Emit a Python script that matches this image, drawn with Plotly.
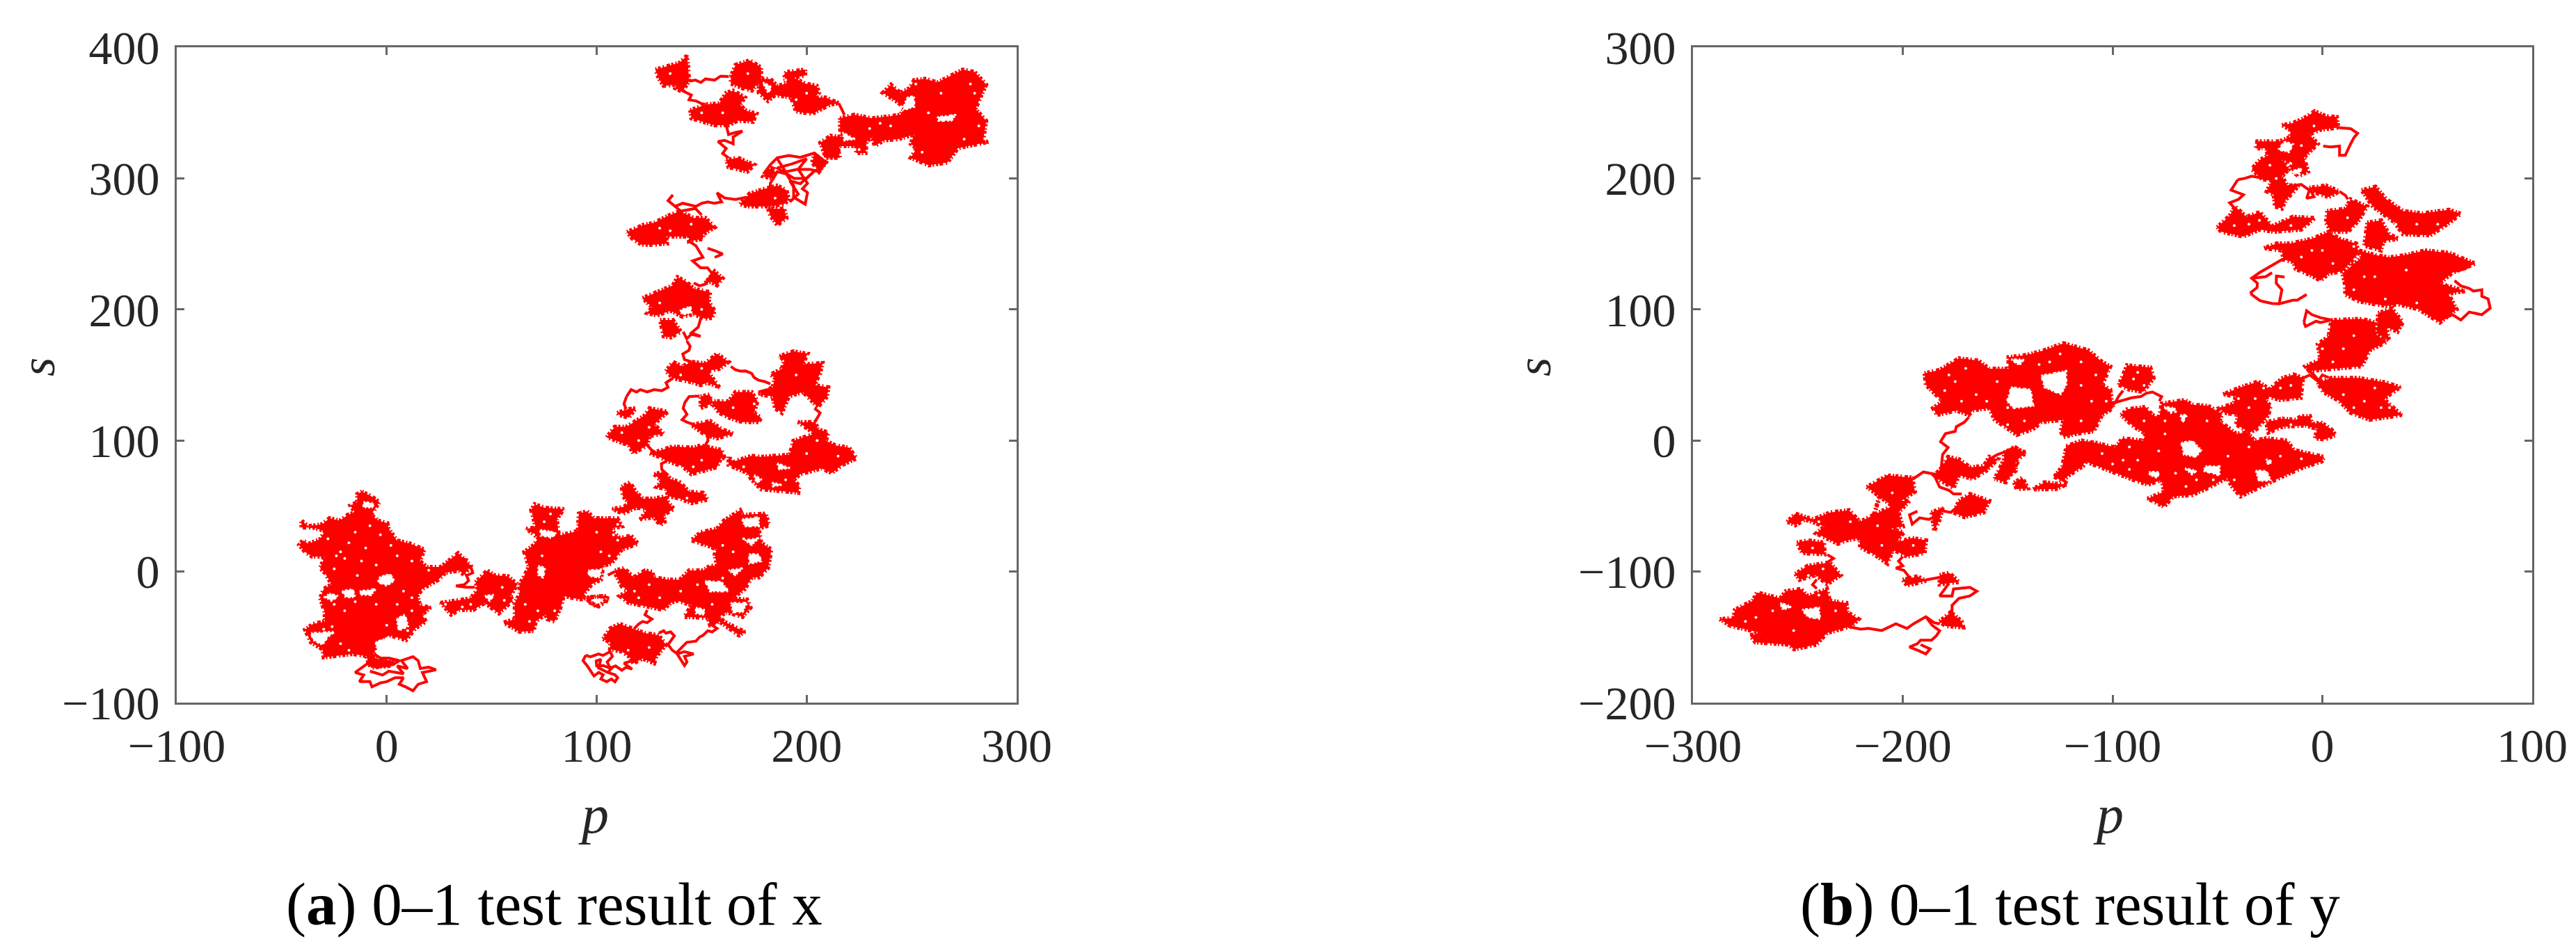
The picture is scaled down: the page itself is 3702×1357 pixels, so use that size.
import plotly.graph_objects as go

W, H = 3702, 1357
OFF = 8  # the page body adds this margin around the figure

# ================= panel (a): 0-1 test walk of x =================
# outlines of the regions the walk fills almost solidly
a_left = [(-11.8,61),(-7.4,57.5),(-3.5,53),(-5.7,46.9),(-7.4,43.3),(-4.1,38.9),(.3,37),(.9,32.7),(4.8,23.8),(11.4,21.2),(18,16.8),(15.8,7.9),(19.1,3.5),(25.7,3.5),(32.4,11.4),(34,14),(40,4.4),(36.8,-2.7),(34.6,.8),(28,-.9),(24.6,-6.2),(16.9,-13.3),(14.7,-18.6),(15.8,-25.7),(20.8,-27.5),(16.9,-32.8),(18.6,-38.1),(13.6,-43.4),(9.2,-52.3),(1.4,-48.7),(-3,-52.3),(-6.3,-62.9),(-5.2,-66.4),(3.6,-68.2),(2.5,-71.7),(-7.4,-73.5),(-9,-68.2),(-9.6,-64.6),(-16.2,-62.9),(-26.2,-64.6),(-30,-65.5),(-30.6,-59.3),(-36.1,-54),(-38.9,-44.3),(-35,-39.9),(-29.5,-38.1),(-29.5,-31),(-31.7,-20.4),(-30,-13.3),(-26.2,-9.8),(-29.5,-.9),(-31.7,2.6),(-29.5,11.5),(-35.6,11.5),(-38.9,15),(-41.7,20.3),(-40,23.8),(-37.2,21.2),(-31.7,24.7),(-29.5,30.9),(-35,33.6),(-40.6,33.6),(-40.6,38.9),(-37.2,34.5),(-30.6,36.2),(-27.3,40.7),(-22.3,38.9),(-18.5,43.3),(-15.1,45.1),(-17.3,50.4),(-14,53),(-14,59.2)]
a_bridge = [(42.3,-8),(47.9,.8),(51.2,-2.7),(57.8,-3.6),(62.2,-9.8),(58.9,-18.6),(60,-22.2),(53.4,-31.9),(46.7,-23.9),(41.2,-29.3),(34.6,-29.3),(30.7,-32.8),(25.7,-23.9),(33.5,-22.2),(40,-20.4),(43.4,-13.3)]
a_centre = [(63.3,-9.8),(67.7,3.5),(65.5,15),(70,20.3),(72.2,25.6),(66.6,32.7),(71,33.6),(68.8,46.9),(70.5,51.3),(75.5,48.6),(84.3,47.7),(81,39.8),(82,27.4),(91,31),(91.5,44.2),(95.4,46),(98.7,40.7),(109.8,40.7),(112,34.5),(106.4,32.7),(110.9,25.6),(116.4,27.4),(119.7,21.2),(112,16.8),(107,6.1),(103.1,4.4),(102,-6.2),(97.6,-9.8),(93.2,-18.6),(99.8,-26.6),(104.2,-23.9),(105.3,-18.6),(96.5,-19.5),(92,-21.3),(84.3,-18.6),(83.2,-25.7),(79.9,-38.1),(76.6,-36.3),(75.5,-32.8),(71,-38),(70,-45.2),(63.3,-46),(55.6,-39),(61,-36.3),(61,-24),(63.3,-16.9)]
a_mid1 = [(112,64.6),(115.8,68.1),(118.6,61),(121.9,55.7),(127.4,55.7),(133,57.5),(134,53),(136.8,47.7),(131.9,43.3),(132.4,38),(130.2,35.3),(127.4,41.5),(120.8,39.8),(124.1,47.7),(118.6,48.6),(112.5,44.2),(107.5,47.7),(113.1,49.5),(115.3,52.2),(112.5,57.5)]
a_mid2 = [(127.4,74.3),(131.9,76),(135.2,70.7),(139.6,68.1),(144,61),(150.6,60.1),(152.8,54.8),(145.1,52.2),(139.6,55.7),(134.1,57.5),(133,62.8),(128.5,64.6),(130.8,69)]
a_c_main = [(108.7,.8),(113.1,2.6),(117.5,-4.5),(123,.8),(126.3,-.1),(127.4,-4.5),(134.1,-6.2),(139.6,-6.2),(144,.8),(150.6,.8),(154,4.4),(157.3,4.4),(156.2,13.2),(157.3,16.8),(151.7,20.3),(145.1,23.8),(149.5,30),(157.3,32.7),(160.6,38.9),(168.3,46.8),(169.4,43.3),(180.5,44.2),(182.1,35.3),(177.2,32.7),(178.3,22.1),(183.2,16.8),(181.6,2.6),(177.2,-4.5),(173.9,-4.5),(170.5,-13.3),(165,-20.4),(171.6,-21.3),(173.3,-27.5),(169.4,-34.6),(161.7,-31),(158.4,-34.6),(160.6,-38.1),(170.5,-46),(167.8,-48.7),(161.7,-41.6),(158.4,-38.1),(154,-40.8),(152.9,-35.4),(141.8,-34.6),(145.1,-25.7),(138.5,-22.2),(135.2,-23.9),(131.9,-29.3),(126.3,-27.5),(123,-25.7),(115.3,-23.9),(110.9,-18.6),(115.3,-14.2),(112,-11.5),(109.2,-2.7)]
a_c_low = [(103.1,-51.4),(106.4,-43.4),(110.9,-39.9),(117.5,-43.4),(123,-46.9),(129.6,-48.7),(133,-55.8),(128.5,-64.7),(127.4,-70),(121.9,-66.4),(117.5,-70),(115.3,-64.7),(112,-61.1),(106.4,-59.3),(106.4,-54)]
a_c_nub = [(95.4,-20.4),(100.9,-18.6),(105.3,-20.4),(100.9,-26.6),(97,-24)]
a_band1 = [(127.4,91),(136.3,95.4),(146.2,94.5),(149.5,96.3),(159.5,92.8),(161.1,85.7),(159.5,87.6),(157.3,79.6),(145.1,74.3),(140.7,80.5),(134,84),(129.7,87.6),(125.2,90.2)]
a_band2 = [(162.8,87.6),(162.8,81.4),(171.6,75.2),(173.9,69.9),(178.3,62.8),(189.3,61),(196,60.1),(196.5,65.4),(193.7,69.9),(197,74.3),(207,78.7),(212,75.2),(217,81.4),(223,85.8),(223.6,86.6),(220.2,94.5),(213.6,96.3),(209.2,99.8),(210.3,106),(205.3,108.7),(204.2,114),(196,114),(199.3,110.5),(203.7,105.2),(193.7,99.8),(192,89.2),(178.3,87.5),(173.8,88.3),(165,83.9)]
a_loop_c = [(133,152.9),(136.3,160),(140.7,156.5),(145.1,160),(151.7,159),(154,161.8),(157.3,166.2),(162.8,160),(158.4,154.7),(152.8,153),(156.2,145.9),(158.4,140.6),(152.8,144.1),(149.5,142.3),(146.2,144.1),(136.3,147.6)]
a_loop_r = [(187.1,164.4),(193.7,168),(200.4,166.2),(198.2,158.2),(207.5,159.1),(206.4,151.2),(203.7,142.3),(210.3,140.6),(209.8,133.5),(205.3,125.5),(201.5,131.7),(198.2,137),(191.5,133.5),(188.2,121.1),(184.9,124.6),(183.8,133.5),(177.2,135.3),(183.8,140.6),(184.9,147.6),(182.7,150.3),(188.2,154.7),(189.3,160.9)]
a_loop_m = [(149.5,133.5),(154,135.2),(154,129.9),(162.8,129.9),(166.1,137),(173.8,137),(176.6,129.9),(174.9,121.1),(178.3,117.5),(177.2,114),(169.4,114),(162.8,117.5),(158.4,121.1),(155,128.2),(149.5,124.6)]
a_loop_l = [(104.8,102.5),(108.6,110.5),(114.2,110.5),(117.5,114),(123,119.3),(125.2,124.6),(134,122),(130.7,117.5),(127.4,112.2),(131.9,105.2),(125.2,103.4),(124.1,96.3),(117.5,90.1),(115.3,96.3),(108.6,100.7)]
a_loop_l2 = [(109.8,121),(114.2,123.7),(118.6,124.6),(115.3,117.5),(110.9,119.3)]
a_loop_b = [(146.2,112.2),(154,114.9),(159.5,108.7),(165,105.2),(157.3,101.6),(151.7,104.3),(146.2,110.5)]
a_up1 = [(121.9,208.7),(129.6,214),(136.3,218.4),(138.5,224.6),(142.9,221),(146.2,215.8),(154,213.1),(153.4,206),(156.2,198.9),(155,193.6),(151.7,192.8),(146.2,196.3),(140.7,194.5),(135.2,199),(128.5,195.4),(124.1,197.2),(126.3,201.6)]
a_up2 = [(130.2,191.9),(136.3,191.9),(140.1,183),(135.2,178.6),(131.9,179.5),(130.7,186.6)]
a_up3 = [(151.7,220.2),(156.2,229),(160,223.7),(157.3,218.4),(154.5,221)]
a_up4 = [(114.5,259),(122,264.4),(127.5,266.2),(134.1,271.5),(139.6,275),(146.2,269.8),(151.8,269.8),(156.2,262.6),(150.7,257.3),(150.6,253.8),(144,252),(144,255.6),(133,255.6),(133.5,250.3),(127.4,249.4),(121.4,249.4),(117,254)]
a_up5 = [(168.3,280.3),(172.8,288.3),(179.4,291.8),(186,294.5),(190.4,291),(191.5,283.9),(189.3,280.3),(182.7,278.6),(171.7,278.6)]
a_up6 = [(181.6,276.8),(189.3,276.8),(190.4,269.7),(186,264.4),(182.7,271.5)]
a_up7 = [(203.7,318.4),(209.2,312.2),(205.9,305.1),(202.6,312.2)]
a_up8 = [(181.6,306.9),(185,308.6),(183.8,299.8),(179.4,301.6)]
a_up9 = [(209.2,328.1),(213.6,330.8),(215.9,315.7),(209.2,315.7)]
a_top1 = [(128,383),(139.6,388.3),(142.9,393.6),(143.5,386.5),(144,374.1),(140.7,366.2),(137.4,368.8),(138,371.5),(131.9,370.6),(129.7,375.9)]
a_top2 = [(163.9,377.7),(166.1,386.5),(172.8,390),(178.3,384.7),(178.3,375.9),(173.9,367),(169.4,368.8),(163.9,372.4)]
a_top3 = [(177.2,375.9),(182.7,375.9),(186,370.6),(190.4,372.4),(189.3,379.4),(190.4,381.2),(199.3,383),(199.3,378.5),(193.8,376.8),(199.3,372.4),(204.8,370.6),(205.9,365.3),(203.7,361.7),(209.2,361.7),(215.3,357.3),(211.4,356.4),(202.6,349.3),(194.9,351.1),(192.6,361.7),(184.9,363.5),(181.6,359.1),(177.2,365.3)]
a_top4 = [(144.6,352),(151.8,356.4),(158.4,357.3),(161.7,365.3),(165,367),(170.6,361.7),(168.3,356.4),(170.6,352),(176.1,349.3),(174.4,343.2),(167.2,344),(162.8,340.5),(156.2,340.5),(149.6,344),(145.1,345.8)]
a_top5 = [(161.7,314),(167.2,315.7),(175,310.4),(171.7,305.1),(162.8,308.6)]
a_right = [(215.9,345.8),(222.5,348.5),(231.3,345.8),(244.6,348.5),(246.8,353.8),(242.4,359.1),(236.3,365.3),(240.2,371.5),(244.6,365.3),(249,368.8),(251.2,375),(256.7,375.9),(262.3,373.2),(267.8,377.7),(274.4,383),(280,381.2),(285.5,371.6),(280.4,353),(285.5,344),(284,328),(287,328),(272,323),(267,312),(258,310),(254.5,312.2),(249.6,315.7),(252.3,322.8),(249.6,326.3),(251.2,333.4),(243.5,329.9),(236.8,329),(232.4,324.6),(231.3,331.6),(228.6,328.1),(228,319.3),(223.6,319.3),(223.6,324.6),(215.9,324.6),(213.6,316.6),(209.2,315.7),(206.5,327.2),(211.4,332.5),(216.4,331.6),(215.9,338.7)]
a_solid = [a_left, a_bridge, a_centre, a_mid1, a_mid2, a_c_main, a_c_low, a_c_nub, a_band1, a_band2, a_loop_c, a_loop_r, a_loop_m, a_loop_l, a_loop_l2, a_loop_b, a_up1, a_up2, a_up3, a_up4, a_up5, a_up6, a_up7, a_up8, a_up9, a_top1, a_top2, a_top3, a_top4, a_top5, a_right]
# gaps the walk leaves inside those regions
a_gaps = [
    [(-3.5,-4.5),(1.5,-1.8),(3.6,-7.1),(-.2,-10.7),(-4.1,-8)],
    [(-21.2,-15.1),(-16.2,-13.3),(-15.1,-19.5),(-19.6,-19.5)],
    [(-12.9,-15.1),(-5.2,-13.3),(-7.4,-17.8),(-11.8,-17.8)],
    [(-36,-47),(-25,-46),(-28.4,-50.5),(-30.6,-55.8),(-35,-52.3)],
    [(4.8,-36.3),(8.6,-32.8),(10.2,-41.6),(5.8,-45.2)],
    [(-5.2,-54),(.3,-50.5),(-3,-61.1),(-4.1,-64.6)],
    [(-27.3,-16.9),(-23,-18.6),(-26.3,-22.2),(-29.5,-19.5)],
    [(-11,53),(-6,52),(-7,49),(-11,49)],
    [(46.7,-18.6),(51.2,-17.7),(49,-22.2)],
    [(72.2,4.4),(75.5,2.6),(74.4,-4.5),(72.2,-2.7)],
    [(73.3,31.8),(80,29.2),(77.7,26.5),(73.3,27.4)],
    [(96,.8),(102,1.7),(101.5,-4.5),(96.5,-3.6)],
    [(76.6,31),(81,29),(78,26)],
    [(169.4,39.8),(177.2,41.5),(177.2,34.5),(170.5,34.5)],
    [(172.7,13.2),(177.2,13.2),(178.3,7.9),(172.7,6.1)],
    [(170.5,23.8),(177.2,25.6),(173.9,20.3)],
    [(151.7,-7.2),(159.5,-8),(162.8,-15.1),(154,-15.1)],
    [(147.3,-27.5),(151.7,-29.3),(150.6,-32.8),(147.3,-31.9)],
    [(163.9,-24),(171.6,-24),(169.4,-31),(165,-31)],
    [(162.8,.8),(169.4,2.6),(166.1,-2.7)],
    [(175,73.5),(178.8,70),(176,68)],
    [(183.7,68),(184,65),(188,66)],
    [(186,82.5),(192,79),(187,78)],
    [(139.6,198.9),(144.6,202.5),(145.1,197.2),(140.7,196.3)],
    [(179.2,373.2),(183.3,369.7),(181.6,365.3)],
    [(262.3,346.7),(271.1,348.5),(268.9,344),(262.8,344)],
    [(247.9,361.7),(251.2,362.6),(251.2,354.6),(245.7,352)],
    [(217,335),(223,330),(218,329)],
    [(168,95),(176,96),(172,92)],
]
a_specks = [(-20,10),(-10,18),(-25,2),(-5,5),(5,12),(12,8),(-15,30),(-28,25),(-18,22),(0,-3),(8,-15),(-25,-25),(-15,-23),(-5,-25),(5,-25),(12,-30),(-22,-55),(10,-45),(-30,-44),(-8,35),(-3,28),(-22,15),(-14,-3),(-18,-60),(0,-41),(20,1),(28,-25),(40,-25),(55,-12),(70,28),(75,38),(66,-25),(72,-30),(68,-38),(90,35),(100,30),(108,28),(102,15),(80,-30),(110,24),(118,-15),(125,-10),(130,-20),(140,-15),(148,-10),(155,-25),(160,-5),(150,12),(165,15),(170,25),(175,-10),(115,-60),(125,-58),(120,46),(143,56),(130,80),(150,85),(165,86),(200,90),(205,100),(190,70),(140,150),(195,150),(125,110),(112,106),(165,125),(130,205),(150,200),(130,262),(185,285),(135,380),(172,380),(195,360),(160,350),(230,338),(258,350),(275,330),(264,365),(240,340),(280,365),(255,320),(-33,-50),(-12,8),(-24,12),(2,20),(-20,-30),(-26,-42),(12,-20),(-2,-60),(46,-28),(36,-27),(56,-22),(78,44),(74,12),(106,12),(110,36),(135,-28),(120,-20),(160,20),(176,-25),(166,-40),(146,80),(215,88),(170,80),(200,160),(196,125),(175,128),(120,100),(150,155),(135,260),(145,265),(190,375),(200,365),(150,350),(225,322),(235,342),(252,372),(278,372),(282,340)]
# thin stretches of the walk between those regions
a_tail = [(-6,-63),(-3,-66),(1,-66),(6,-68),(3,-71),(-5,-73),(-9,-70),(-15,-77),(-11,-79),(-13,-84),(-8,-84),(-7,-88),(-3,-85),(0,-84),(4,-81),(8,-81),(6,-86),(9,-88),(12.5,-91),(15,-86),(19,-84),(17,-77),(23.5,-75),(20,-73),(16,-74),(15,-68),(12.5,-65),(7,-68),(10,-74),(5,-72),(8,-78),(1,-76),(-2,-79),(-8,-76)]
a_link = [(25,2),(28,4),(29,7),(32,6),(34,10),(38,9),(37,5),(40,4),(41,-1),(38,-3),(39,-7),(37,-10),(33,-11),(38,-12),(42,-12)]
a_ring = [(94.8,-63.8),(97,-65),(100.9,-62.9),(103,-64),(106.4,-61.1),(107.5,-64.7),(105,-69),(106.4,-73.5),(109,-72),(112,-75.3),(114,-73),(116.9,-74.4),(113,-70),(117,-68)]
a_ring2 = [(94.8,-63.8),(93.5,-68),(95.4,-71.7),(97,-76),(98.7,-79.7),(101,-77),(103.1,-78.8),(102,-82),(104.8,-84.1),(107,-82),(108.7,-84.1),(110,-81),(108.7,-78.8),(105.3,-77),(107,-74),(103.1,-71.7),(100,-72),(99.8,-68.2),(102,-67),(100.9,-73.5),(105.3,-77)]
a_c1 = [(118,-43.4),(120,-40),(121.9,-38.1),(124,-39),(126.3,-36.3),(123,-33),(124.1,-29.3)]
a_c2 = [(129.6,-47),(131.9,-45.2),(133,-47),(135.2,-46),(137,-49),(135.7,-52.3),(134,-55.8),(136,-60),(138.5,-62.9),(141.8,-61.1),(146.2,-62.9),(141.8,-64.7),(143,-69),(141.8,-71.7),(139.6,-66.4),(138,-62),(140.7,-57.6),(142.9,-54),(147.3,-53.1),(149,-50),(150.6,-48.7),(152.9,-45.2),(155,-46),(157.3,-43.4),(155,-41),(157.3,-38.1)]
a_c3 = [(105.3,-2.7),(108.7,0)]
a_c4 = [(134,73.4),(131,78),(130.8,82.2),(133,84),(133,87.6)]
a_f1 = [(114.2,133.5),(113,128),(114,124)]
a_f2 = [(114.2,133.5),(116.4,138.8),(119,137),(120.8,138.8),(124,137),(127.4,138.8),(131,138),(134,140.6),(133,144),(136.3,147.6)]
a_f3 = [(163.9,156.5),(166,154),(168.3,152.9),(171,153),(173.8,151.2),(175,148),(177.2,145.9),(180,145),(182.7,143.2)]
a_f4 = [(149,134),(144,133.5),(142,129),(141.2,124.6),(143,120),(140.7,115.8),(143,114),(146.2,112.2)]
a_f5 = [(152.8,105.2),(153,100),(151.7,96.3),(149.5,94.5)]
a_f6 = [(203.7,124.6),(206.4,121.1),(205,117),(203.7,114)]
a_f7 = [(124.1,96.3),(126,93),(128.5,90.1)]
a_f8 = [(177,137),(182,139),(184,137),(186,142)]
a_f9 = [(149.5,192.8),(148.4,186.6),(145.1,182.1),(149.5,179.5),(145,181),(142.9,177.7),(141.2,183)]
a_f10 = [(142.9,176),(144.5,172),(144,168.9),(141,166),(141.8,161.8),(145.1,160)]
a_f11 = [(146.2,220.2),(149,218),(151.7,219.3),(155,227.3),(152.8,231.7),(149.5,231.7),(145.7,237),(150.6,239.7),(149,244),(147.3,248.5),(144,252),(146.2,257.4)]
a_f12 = [(152.8,246.7),(156,245),(160,242.3),(156.2,239.7)]
a_f13 = [(136.3,287.4),(134,283),(137.4,278.6),(141,281),(147.3,278.6),(150,281),(152.9,282),(156,281),(159.5,282),(157.3,289),(161,285),(166.1,283.9),(171.7,285.6)]
a_f14 = [(137.4,278.6),(140,275),(147,277),(150,272)]
a_f15 = [(179.4,303.3),(182.7,310.4),(186,315.7),(191.5,317.5),(197,316),(203.7,319.3),(209.2,312.2),(205.9,305.1),(201.5,306.9),(196,306.9),(200.4,296.2),(198,292),(200.4,289.2),(199.3,280.3),(193.8,285.6),(193.8,294.5),(190.4,303.3),(186,305.1),(182.7,296.2),(182.7,292.7)]
a_f15b = [(186,315),(190,305),(196,307),(200,315),(193,311),(186,308),(194,300),(200,300),(204,306),(197,296),(192,298),(196,288),(192,282)]
a_f16 = [(144,374.1),(147,375),(149.6,373.2),(151.8,375.9),(156.2,375),(159,378),(162.8,377.7)]
a_f17 = [(140.7,367),(145.1,363.5),(144,360),(147.3,359.1),(150,357),(151.8,356.4)]
a_f18 = [(161.7,340.5),(162.8,333.4),(166,335),(169.4,336),(165,331.6),(165,326.3),(161,329),(157.8,328.1),(161.7,322.8),(160,319),(162.8,315.7)]
a_f19 = [(215.3,357.3),(217,352),(218,348.5)]
a_fine = [a_tail, a_link, a_ring, a_ring2, a_c1, a_c2, a_c3, a_c4, a_f1, a_f2, a_f3, a_f4, a_f5, a_f6, a_f7, a_f8, a_f9, a_f10, a_f11, a_f12, a_f13, a_f14, a_f15, a_f15b, a_f16, a_f17, a_f18, a_f19]

# ================= panel (b): 0-1 test walk of y =================
b_low = [(-287.2,-136.3),(-280.7,-135.4),(-280,-129.2),(-271.5,-122.2),(-269.5,-116),(-263.6,-118.6),(-258.4,-120.4),(-255.8,-115),(-248.6,-113.3),(-245.3,-118.6),(-236.1,-113.3),(-234.8,-122.2),(-226.9,-123.9),(-226.3,-131),(-221,-136.3),(-224.3,-141.6),(-236.1,-146.9),(-241.3,-155.8),(-251.8,-159.3),(-254.4,-155.8),(-270.2,-154),(-272.8,-148.7),(-267.6,-146.9),(-276.7,-143.4),(-282,-141.6)]
b_t1 = [(-182.4,-138),(-177.1,-131),(-171.9,-138),(-171.2,-142.5),(-179.7,-141.6)]
b_t2 = [(-182.4,-102.7),(-177.8,-101),(-173.2,-108),(-182.4,-109.8)]
b_t3 = [(-200,-106.3),(-192.9,-103.6),(-189,-107.1),(-198,-110.7)]
b_m1 = [(-251.2,-101.8),(-245.3,-95.6),(-234.8,-93),(-229.6,-102.7),(-236.1,-109.8),(-241.3,-102.7),(-249.2,-106.3)]
b_m2 = [(-250.5,-77.9),(-245.3,-76.2),(-237.4,-77.9),(-237.4,-86.8),(-247.9,-85.9)]
b_m3 = [(-255.1,-62),(-251.2,-55.8),(-242.7,-60.2),(-234.8,-54.9),(-225.6,-53.2),(-220.4,-62),(-213.8,-56.7),(-207.3,-26.6),(-195.5,-28.4),(-194.2,-39),(-200.7,-46.1),(-196.8,-46.1),(-202,-54.9),(-200,-65.6),(-205.9,-67.3),(-199.4,-70),(-203.3,-77.9),(-195.5,-74.4),(-188.9,-76.2),(-189.6,-85.9),(-198,-88.6),(-204.6,-83.3),(-207.3,-93.9),(-213.8,-86.8),(-220.4,-81.5),(-220.4,-74.4),(-226.9,-76.2),(-230.9,-78.8),(-241.3,-70.9),(-237.4,-65.6),(-246.6,-60.2),(-251.2,-64.7)]
b_m4 = [(-217.1,-35.5),(-207.3,-26.6),(-203.3,-30.2),(-205.9,-39),(-211.2,-42.6),(-213.8,-56.7),(-205,-50)]
b_upper = [(-189.6,51.2),(-182.4,53.9),(-173.2,62.7),(-164,61),(-158.8,54.8),(-149.6,54.8),(-149.6,63.6),(-140.4,65.4),(-132.5,68.9),(-123.4,74.2),(-111.6,68.9),(-105.1,60.1),(-101.1,56.5),(-103.8,47.7),(-105,42.4),(-101.1,38.8),(-99.8,24.7),(-105,19.4),(-109,7),(-116.8,5.2),(-123.4,2.6),(-124.7,7),(-123.4,15.8),(-133.9,14),(-137.8,8.8),(-145.7,4.3),(-156.2,15.8),(-158.8,24.7),(-166.6,22.9),(-168.6,19.4),(-174.5,22.9),(-183.7,19.4),(-185.6,24.7),(-181.1,30),(-189,42.4)]
b_a1 = [(-181.7,-21.3),(-178.4,-12.5),(-173.2,-14.3),(-168,-20.4),(-161.4,-19.5),(-158.8,-12.5),(-154.8,-14.3),(-160.2,-23.1),(-166.6,-29.3),(-173.2,-26.6),(-175.8,-36.4),(-182.4,-30.2),(-185,-26.6)]
b_a2 = [(-156.2,-29.3),(-152.2,-16),(-145.7,-17.8),(-150.9,-31.9)]
b_a3 = [(-148.3,-5.4),(-141.7,-8.9),(-147,-14.3)]
b_a4 = [(-173.2,-46.1),(-168,-40.8),(-158.8,-46.1),(-161.4,-54.9),(-170.6,-58.5),(-175.8,-54.9)]
b_a5 = [(-186.3,-54.9),(-181,-51.4),(-182.4,-60.2),(-185,-69)]
b_a6 = [(-146.9,-32),(-143,-28.4),(-140.4,-36.4),(-145.7,-37.2)]
b_a7 = [(-137.8,-37.2),(-132.5,-31.9),(-122.1,-33.7),(-127.3,-37.2)]
b_a8 = [(-122.1,-5.4),(-114.2,-1.9),(-109,-1.9),(-114.2,-16),(-119.5,-21.3),(-127.3,-26.6),(-124,-20)]
b_lobe = [(-97,42.4),(-93.1,57.4),(-82,55.7),(-80.4,47.7),(-85.4,37.1),(-92,38.8)]
b_centre = [(-95.9,19.4),(-93.1,23.8),(-84.3,25.6),(-81,19.4),(-77.7,17.6),(-76.6,28.2),(-65.5,30.9),(-62.2,27.3),(-54.5,26.5),(-47.8,20.3),(-49,14.9),(-41.2,5.2),(-35.7,6.1),(-32.4,-.1),(-26.8,1.7),(-16.9,-.1),(-13.6,-7.2),(.8,-12.5),(-.3,-16),(-10.3,-21.3),(-20.2,-28.4),(-30.1,-35.5),(-39,-42.6),(-42.9,-35.5),(-45.6,-28.4),(-53.4,-35.5),(-62.2,-41.7),(-71,-42.6),(-75.5,-50.5),(-83.2,-44.3),(-75.5,-39),(-76.6,-30.2),(-83.2,-33.7),(-89.8,-30.2),(-98.7,-24.9),(-106.4,-19.6),(-113,-16),(-122.4,-4.5),(-114.7,-.1),(-107.5,-1.9),(-98.7,-5.4),(-95.3,1.7),(-85.4,-.1),(-84.3,5.2),(-89.8,10.5)]
b_c1 = [(-47.3,35.3),(-39,40.6),(-30.7,45),(-25.7,39.7),(-26.8,30),(-24.6,26.5),(-25.7,19.4),(-31.3,8.8),(-34.6,6.1),(-41.2,12.3),(-40,19.4),(-46.7,21.1),(-49,24.7),(-42.3,28.2),(-41.2,33.5)]
b_c2 = [(-26.8,37),(-19,47.7),(-13.6,50.3),(-9.2,47.7),(-10.3,32.6),(-20.2,30.9),(-25.7,33.5)]
b_c3 = [(-26.8,14),(-19,16.7),(-12.5,15.8),(-10.3,18.5),(-5.9,18.5),(-4.8,12.3),(-.9,14),(4.1,8.8),(6.3,4.3),(1.3,.8),(-3.6,1.7),(-2.4,8.8),(-8,11.4),(-19,10.5),(-25.7,6.1)]
b_l1 = [(-151.7,-9),(-146.2,-5.4),(-141.8,-9.9),(-146.2,-16),(-146.2,-23.1),(-151.7,-30.2)]
b_l2 = [(-127.9,-27.5),(-119.7,-19.6),(-113,-14.3),(-114.1,-19.6),(-120.8,-26.6),(-124.1,-31.1)]
b_r1 = [(-50.1,162.7),(-44.2,171.5),(-41.6,178.6),(-36.3,170.7),(-29.8,174.2),(-23.9,163.6),(-14,170.7),(-3.6,169.8),(-10.1,160.9),(-23.2,159.2),(-29.8,161),(-37.6,155.6),(-48.1,159.2)]
b_r2 = [(-6.2,192.8),(1.7,194.6),(8.1,190.1),(3,185.7),(-3.6,189.2)]
b_r3 = [(2.3,175.1),(10.9,176.9),(13.5,184),(21.3,178.6),(17.4,168),(12.2,159.2),(4.3,159.2),(1.7,166.3)]
b_r4 = [(18.7,191),(25.3,193.7),(30.5,184),(38.4,175.1),(47.6,173.3),(60.4,176),(66,173),(60.4,166),(51.5,156.5),(38.4,157.4),(34.5,166.3),(24,178.6)]
b_r5 = [(21.4,166.3),(28,168),(31.8,157.4),(36.4,153.9),(29.2,152.1),(27.9,145),(20,148.6)]
b_r6 = [(-27.8,146.8),(-21.9,150.3),(-15.3,150.3),(-4.9,153.9),(3,159.2),(8.2,153.9),(16.1,150.3),(17.4,143.2),(9.6,129.1),(3,127.3),(-.9,122),(-4.9,125.5),(-12.7,130.9),(-14,136.2),(-18.6,138),(-19.3,145)]
b_big = [(9.6,127.3),(18.7,139.7),(17.4,145),(25.3,141.5),(31.8,139.7),(39.7,141.5),(48.9,145),(60.4,143.2),(73,135),(62,128),(56,120),(68,114),(60,112),(64,100),(56,90),(46,100),(36,104),(30.5,102.6),(17.4,106.1),(10.9,111.4),(10.9,118.5)]
b_r7 = [(26.6,97.2),(33.1,100.8),(38.4,90.2),(35.8,83),(30.5,86.6),(31.8,76),(26,82)]
b_r8 = [(4.3,91.9),(18.7,92.8),(25.3,90.2),(25.3,81.3),(30.5,75.1),(22.7,68.9),(18.7,56.6),(8.2,54.8),(-6.2,53),(-8.1,56.6),(-1,61.9),(-2.2,73.4),(3,79.5)]
b_r9 = [(-2.2,44.2),(4.3,47.7),(17.4,47.7),(30.5,44.2),(37.1,40.6),(29.2,31.8),(37.7,19.4),(22.7,15.8),(13.5,21.1),(8.2,30),(.4,37)]
b_top = [(-19.3,240.6),(-14,242.3),(-8.8,245.9),(-3.6,251.2),(1.7,247.6),(6.9,246.8),(7.6,238.8),(-1,237),(-6.2,233.5),(-2.2,226.4),(-8.8,215.8),(-6.8,205.2),(-11.4,201.6),(-15.3,207),(-14,212.2),(-19.3,214),(-16,207),(-19.3,201.6),(-16.7,194.6),(-11.4,194.6),(-14,189.2),(-17.3,184),(-19.3,176.9),(-22.6,178.6),(-23.2,187.5),(-26.5,190.1),(-23.9,199),(-28.5,199),(-33.7,207),(-29.8,214),(-25.8,217.6),(-27.2,222.9),(-31.7,222.9),(-31,228.2),(-25.8,228.2),(-20.6,228.2),(-15.3,231.7),(-15.3,237)]
b_solid = [b_low, b_t1, b_t2, b_t3, b_m1, b_m2, b_m3, b_m4, b_upper, b_a1, b_a2, b_a3, b_a4, b_a5, b_a6, b_a7, b_a8, b_lobe, b_centre, b_c1, b_c2, b_c3, b_l1, b_l2, b_r1, b_r2, b_r3, b_r4, b_r5, b_r6, b_big, b_r7, b_r8, b_r9, b_top]
b_gaps = [
    [(-247.9,-129.2),(-240,-127.5),(-239.4,-136.3),(-245.3,-134.5)],
    [(-258.4,-124),(-253.1,-126.6),(-257.1,-129.2)],
    [(-148.3,40.6),(-139.1,38.8),(-137.8,26.5),(-147,24.7),(-150.3,30)],
    [(-133.9,49.5),(-122.1,53),(-122.1,42.4),(-124.7,35.3),(-132.5,40.6)],
    [(-148.3,61.8),(-142.4,61.8),(-144.4,57.4)],
    [(-67.2,-1.9),(-62.2,-.1),(-57.8,-7.2),(-60,-12.5),(-66,-10.7)],
    [(-55.6,-19.6),(-49,-19.6),(-49,-26.6),(-56.7,-23.1)],
    [(-31.8,-23.1),(-26.8,-23.1),(-24.6,-30.2),(-30.1,-31.1)],
    [(-26.8,-14.3),(-24,-16),(-25.7,-18.7)],
    [(-82.6,-24),(-77.7,-24),(-78.8,-28.4),(-82,-26.6)],
    [(-65.5,-21.3),(-60,-23.1),(-62.2,-25.8)],
    [(-75.5,25.6),(-70,24.7),(-72.2,21.1)],
    [(-67.7,19.4),(-64.4,19.4),(-66.6,14)],
    [(-18,228),(-14,226),(-16,220),(-21,222)],
    [(-15,205),(-10,208),(-11,203)],
]
b_specks = [(-262,-130),(-270,-135),(-252,-145),(-240,-118),(-232,-130),(-245,-103),(-238,-98),(-243,-82),(-225,-62),(-212,-65),(-205,-40),(-195,-80),(-175,45),(-165,35),(-170,55),(-180,38),(-155,45),(-160,30),(-130,60),(-115,60),(-110,30),(-115,15),(-150,12),(-135,58),(-108,50),(-90,47),(-85,42),(-88,-15),(-78,-8),(-75,5),(-95,-15),(-105,-10),(-85,15),(-55,15),(-42,-30),(-35,-5),(-20,-12),(-70,-25),(-52,-30),(-65,-35),(-35,25),(-32,32),(-20,40),(-15,12),(10,35),(20,30),(28,25),(15,25),(10,70),(15,80),(5,60),(-30,168),(-42,164),(-10,140),(-5,145),(5,135),(12,170),(35,165),(45,165),(25,125),(15,115),(45,105),(40,130),(-25,210),(-10,225),(-4,240),(-20,235),(-275,-138),(-230,-122),(-240,-62),(-210,-80),(-200,-75),(-172,30),(-178,50),(-150,25),(-142,15),(-115,42),(-103,30),(-125,66),(-88,52),(-92,-5),(-100,-18),(-75,15),(-70,22),(-92,-22),(-60,-30),(-45,-12),(-10,-14),(-30,-25),(-28,40),(-40,32),(-15,42),(25,40),(10,22),(32,25),(22,60),(0,70),(-35,165),(-15,164),(15,148),(0,145),(55,165),(30,108),(20,125),(60,120),(-28,222),(-22,200)]
b_tail = [(-226,-142),(-220,-144),(-216.4,-143.4),(-210,-145),(-203.3,-139.9),(-198,-143.4),(-195,-140),(-192.9,-138),(-189,-134.5),(-185,-139),(-182.4,-139.9)]
b_tail2 = [(-189,-134.5),(-186,-141),(-182.4,-145.2),(-184,-149),(-186.3,-152.3),(-191.5,-152.3),(-193,-155),(-196.8,-157.6),(-193,-160),(-189,-162.9),(-187,-159),(-191.5,-155.8)]
b_tail3 = [(-176.5,-132.8),(-176.5,-125.7),(-173.2,-120.4),(-168,-118.6),(-164.7,-115),(-168,-112),(-175.8,-113.3),(-176.5,-118.6),(-182.4,-118.6),(-178.4,-109.8)]
b_tail4 = [(-182.4,-104.5),(-188.9,-106.3)]
b_tail5 = [(-198,-108),(-196.8,-104.5),(-199.4,-99.2),(-203.3,-97.4),(-200,-95.6),(-202,-92),(-200,-88.6)]
b_low1 = [(-241,-113),(-243,-110),(-241,-106)]
b_low2 = [(-236,-87),(-233,-90),(-236,-93)]
b_arm1 = [(-185,-26.6),(-182.4,-35.5),(-178,-38),(-175.8,-40.8),(-171.9,-40.8)]
b_arm2 = [(-183.7,-26),(-190.2,-24),(-194.2,-28.4),(-195.5,-28.4)]
b_arm3 = [(-181.7,-21.3),(-181,-10.7),(-178.4,-5.4),(-182,-1),(-179.7,5.2),(-175,7),(-174.5,10.5),(-170.6,14),(-168.6,17.6)]
b_arm4 = [(-173.2,-49.6),(-177.1,-54.9),(-182.4,-53.2)]
b_arm5 = [(-185,-58.5),(-187.6,-60.2),(-192,-59),(-195.5,-63.8),(-196.8,-56.7),(-193,-54)]
b_arm6 = [(-158.8,-14.3),(-154.8,-10.7),(-150,-8),(-147,-5.4)]
b_arm7 = [(-127.3,-26.6),(-122,-31.9),(-123.4,-35.5)]
b_lk1 = [(-98.7,29),(-94,31),(-90.9,32.6),(-86.5,33.5),(-84,36),(-81,37),(-76.6,33.5),(-77.7,30)]
b_lk2 = [(-100,27),(-98.7,29),(-97,34),(-95,38)]
b_rg1 = [(-8.8,90.2),(-7.5,99),(-5,96),(-1,93.7),(4.3,92),(-1,90),(-3,91),(-8,87),(-8.8,90.2)]
b_rg2 = [(-40.3,199),(-43.5,191),(-37.6,187.5),(-40,184),(-44.2,181.3),(-41.6,176.9)]
b_rg3 = [(-40.3,199),(-37,200),(-33.7,201.6),(-28,200),(-23.9,199)]
b_rg4 = [(-19.3,192.8),(-15,194),(-10.1,195.4),(-6.2,191),(-7.5,184.8),(-4,186),(-6.2,192.8)]
b_rg5 = [(8.1,190.1),(11,187),(12.2,184)]
b_rg6 = [(-19.3,138),(-27.2,130.9),(-30,128),(-33.7,123.8),(-31,120),(-31.1,116.7),(-34,113),(-33.7,111.4),(-30,107),(-28.5,106.1),(-24,104.5),(-20.6,104.3),(-14,107),(-12,107),(-7.5,111.4)]
b_rg7 = [(-20.6,104.3),(-19.3,115),(-22,120),(-21.9,125.5),(-18,124.7)]
b_rg8 = [(-33.7,123.8),(-27,125),(-24,128)]
b_rg9 = [(6.9,238.8),(13.5,237.9),(16.8,234.4),(15,231),(13.5,226.4),(10.9,217.6),(8.2,217.6),(8.2,224.6),(4,224),(.4,224.6)]
b_rg10 = [(56,92),(62,96),(66,92),(70,98),(76,96),(80,101),(79,108),(76,110),(76,115),(72,114),(70,116),(66,118),(63,122)]
b_rg11 = [(63,129),(68,131),(71,135),(66,134)]
b_rg12 = [(-7.5,55),(-4,50),(-1,44)]
b_rg13 = [(-10,47),(-6,50),(-2,45),(0,50),(3,48)]
b_fine = [b_tail, b_tail2, b_tail3, b_tail4, b_tail5, b_low1, b_low2, b_arm1, b_arm2, b_arm3, b_arm4, b_arm5, b_arm6, b_arm7, b_lk1, b_lk2, b_rg1, b_rg2, b_rg3, b_rg4, b_rg5, b_rg6, b_rg7, b_rg8, b_rg9, b_rg10, b_rg11, b_rg12, b_rg13]

x_ticks_a = [-100, 0, 100, 200, 300]
y_ticks_a = [-100, 0, 100, 200, 300, 400]
x_ticks_b = [-300, -200, -100, 0, 100]
y_ticks_b = [-200, -100, 0, 100, 200, 300]
caption_a = "(<b>a</b>) 0–1 test result of x"
caption_b = "(<b>b</b>) 0–1 test result of y"

RED = "#ff0000"
INK = "#262626"
AXIS = "#666666"
FRAY = "2px,2px,4px,3px,2px,4px,5px,2px,3px,3px"


def flat(polys, close):
    xs, ys = [], []
    for poly in polys:
        pts = poly + [poly[0]] if close else poly
        xs += [p for p, _ in pts] + [None]
        ys += [s for _, s in pts] + [None]
    return xs, ys


def add_walk(fig, solid, gaps, specks, fine, xa, ya):
    common = dict(xaxis=xa, yaxis=ya, showlegend=False, hoverinfo="skip")
    sx, sy = flat(solid, True)
    fig.add_trace(go.Scatter(x=sx, y=sy, mode="lines", fill="toself", fillcolor=RED,
                             line=dict(color=RED, width=6, dash=FRAY), **common))
    gx, gy = flat(gaps, True)
    fig.add_trace(go.Scatter(x=gx, y=gy, mode="lines", fill="toself", fillcolor="white",
                             line=dict(color="white", width=3, dash=FRAY), **common))
    fig.add_trace(go.Scatter(x=[p for p, _ in specks], y=[s for _, s in specks], mode="markers",
                             marker=dict(color="white", size=4, line=dict(width=0)), **common))
    fx, fy = flat(fine, False)
    fig.add_trace(go.Scatter(x=fx, y=fy, mode="lines", line=dict(color=RED, width=4), **common))


fig = go.Figure()
add_walk(fig, a_solid, a_gaps, a_specks, a_fine, "x", "y")
add_walk(fig, b_solid, b_gaps, b_specks, b_fine, "x2", "y2")


def axis(rng, ticks, domain, anchor, standoff):
    return dict(range=rng, tickvals=ticks, ticktext=[str(t).replace("-", "−") for t in ticks],
                domain=domain, anchor=anchor, showgrid=False, zeroline=False, automargin=False,
                ticks="inside", ticklen=11, tickwidth=2.5, tickcolor=AXIS,
                showline=True, linecolor=AXIS, linewidth=3, mirror="allticks",
                ticklabelstandoff=standoff,
                tickfont=dict(family="Liberation Serif", size=68, color=INK))


top, bottom = 1 - (68 - OFF) / H, 1 - (1010 - OFF) / H
fig.update_layout(
    width=W, height=H, autosize=False, margin=dict(l=0, r=0, t=0, b=0),
    plot_bgcolor="white", paper_bgcolor="white", showlegend=False,
    xaxis=axis([-100, 300], x_ticks_a, [(254 - OFF) / W, (1461 - OFF) / W], "y", 0),
    yaxis=axis([-100, 400], y_ticks_a, [bottom, top], "x", 8),
    xaxis2=axis([-300, 100], x_ticks_b, [(2433 - OFF) / W, (3639 - OFF) / W], "y2", 0),
    yaxis2=axis([-200, 300], y_ticks_b, [bottom, top], "x2", 8),
)


def note(text, x, y, size, angle=0, color=INK):
    fig.add_annotation(text=text, xref="paper", yref="paper", x=(x - OFF) / W, y=1 - (y - OFF) / H,
                       xanchor="center", yanchor="middle", showarrow=False, textangle=angle,
                       font=dict(family="Liberation Serif", size=size, color=color))


note("<i>p</i>", 853, 1170, 78)
note("<i>p</i>", 3030, 1170, 78)
note("<i>s</i>", 54, 528, 70, -90)
note("<i>s</i>", 2204, 528, 70, -90)
note(caption_a, 796, 1299, 87, color="#000000")
note(caption_b, 2975, 1299, 87, color="#000000")

fig.write_html("out.html")
